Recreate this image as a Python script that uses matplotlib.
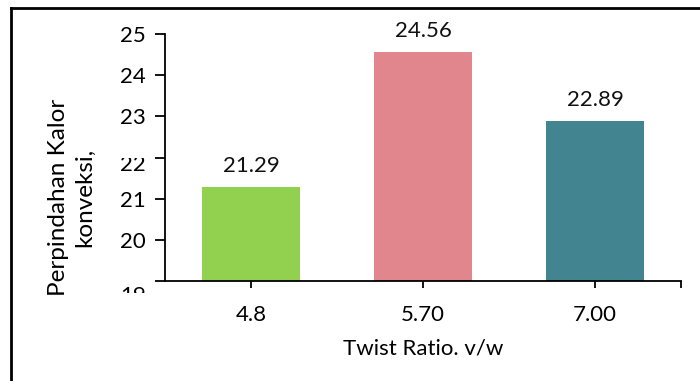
import matplotlib
matplotlib.use('Agg')
import matplotlib.pyplot as plt
from matplotlib.lines import Line2D
from matplotlib.transforms import Bbox, ScaledTranslation

# twist ratio vs. convective heat transfer
categories = ['4.8', '5.70', '7.00']
values = [21.29, 24.56, 22.89]
colors = ['#92D050', '#E0868C', '#428490']
yticks = [19, 20, 21, 22, 23, 24, 25]

plt.rcParams['font.family'] = ['Lato', 'DejaVu Sans']
FS = 16

W, H = 700, 381
fig = plt.figure(figsize=(7, 3.81), dpi=100)
ax = fig.add_axes([165 / W, 1 - 281 / H, (681 - 165) / W, (281 - 34) / H])

x = range(len(categories))
ax.bar(x, values, width=0.575, color=colors, zorder=2)
for xi, v in zip(x, values):
    ax.annotate('%.2f' % v, (xi, v), xytext=(0, 8), textcoords='offset points',
                ha='center', va='bottom', fontsize=FS, color='#111111')

ax.set_xlim(-0.5, 2.5)
ax.set_ylim(19, 25)
ax.set_yticks(yticks)
ax.set_xticks(list(x))
ax.set_xticklabels(categories)
ax.set_xticks([2.5], minor=True)
ax.tick_params(axis='both', labelsize=FS, colors='black')
ax.tick_params(axis='y', length=7, width=1.3, pad=7)
ax.tick_params(axis='x', length=5, width=1.3, pad=12)
ax.tick_params(axis='x', which='minor', length=5, width=1.3)

for side in ['top', 'right']:
    ax.spines[side].set_visible(False)
for side in ['left', 'bottom']:
    ax.spines[side].set_linewidth(1.3)

ax.set_xlabel('Twist Ratio. v/w', fontsize=FS, labelpad=10)
ax.set_ylabel('Perpindahan Kalor\nkonveksi,', fontsize=17.5, linespacing=1.3)
ax.yaxis.set_label_coords(-0.136, 0.34)

# two value-axis labels are drawn shifted and partly hidden
fig.canvas.draw()
for tick in ax.yaxis.get_major_ticks():
    lab = tick.label1
    t = lab.get_text()
    if t == '19':
        lab.set_transform(lab.get_transform() +
                          ScaledTranslation(0, -13 / 100, fig.dpi_scale_trans))
        lab.set_clip_box(Bbox([[0, H - 293], [W, H]]))
        lab.set_clip_on(True)
    elif t == '22':
        lab.set_transform(lab.get_transform() +
                          ScaledTranslation(0, -5 / 100, fig.dpi_scale_trans))
        lab.set_clip_box(Bbox([[0, 0], [W, H - 158]]))
        lab.set_clip_on(True)

# outer frame
fig.add_artist(Line2D([11 / W, 1], [1 - 8 / H, 1 - 8 / H],
                      transform=fig.transFigure, color='black', lw=2))
fig.add_artist(Line2D([11 / W, 11 / W], [0, 1 - 8 / H],
                      transform=fig.transFigure, color='black', lw=2))

fig.savefig('out.png', dpi=100)
